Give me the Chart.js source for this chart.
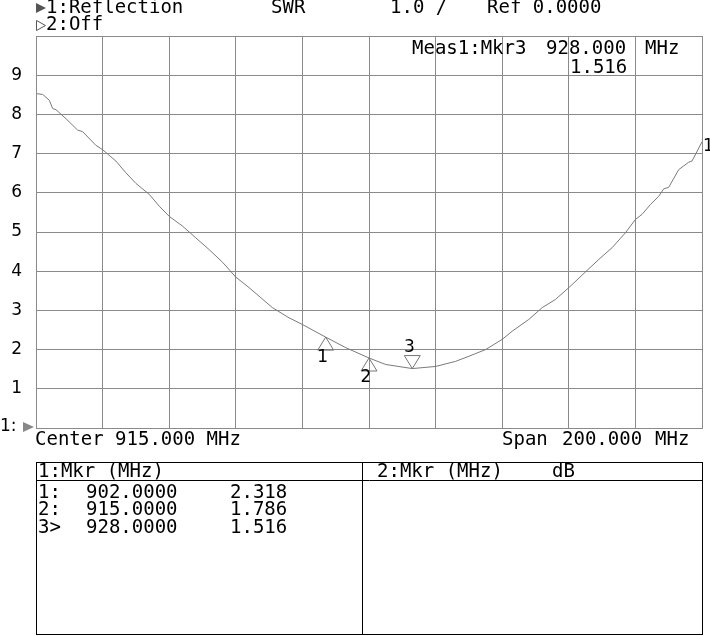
<!DOCTYPE html>
<html>
<head>
<meta charset="utf-8">
<script src="https://cdn.jsdelivr.net/npm/chart.js@4.4.1/dist/chart.umd.min.js"></script>
<style>
html,body{margin:0;padding:0;background:#fff;}
#wrap{width:710px;height:636px;position:relative;}
</style>
</head>
<body>
<div id="wrap"><canvas id="c" width="710" height="636"></canvas></div>
<script>
// Frequencies (MHz) and SWR values
const freqs = [815,817,819,820,821,824,827.5,829,833,835,839,842,845,849,852,855,859,863,867,871,875,879,886,891,895,902,908,915,920,928,935,941,945,950,955,958,963,967,971,975,980,984,988,992,993.5,995,997,999.5,1002,1003.5,1005,1008,1011,1012,1015];
const swr   = [8.53,8.51,8.36,8.15,8.12,7.89,7.60,7.56,7.21,7.10,6.81,6.51,6.24,5.96,5.66,5.40,5.15,4.85,4.55,4.23,3.85,3.58,3.07,2.81,2.64,2.318,2.05,1.786,1.62,1.516,1.57,1.70,1.83,2.00,2.26,2.47,2.77,3.07,3.28,3.58,3.98,4.30,4.60,4.98,5.15,5.32,5.45,5.70,5.91,6.10,6.14,6.59,6.78,6.81,7.30];
// Markers
const markerIds   = ['1','2','3'];
const markerFreqs = [902.0, 915.0, 928.0];
const markerVals  = [2.318, 1.786, 1.516];
const activeMarker = 2;
// Axis settings
const xMin = 815, xMax = 1015, xStep = 20;
const yMin = 0, yMax = 10, yStep = 1;
const yTickLabels = ['', '1','2','3','4','5','6','7','8','9',''];
// Annotation texts
const header1 = ['1:Reflection', 'SWR', '1.0 /', 'Ref 0.0000'];
const header2 = '2:Off';
const measText = ['Meas1:Mkr3', '928.000', 'MHz', '1.516'];
const centerText = 'Center 915.000 MHz';
const spanText = ['Span', '200.000', 'MHz'];
const tableHead = ['1:Mkr (MHz)', '2:Mkr (MHz)', 'dB'];
const tableRows = [['1:', '902.0000', '2.318'], ['2:', '915.0000', '1.786'], ['3>', '928.0000', '1.516']];

const MONO = '"DejaVu Sans Mono", monospace';
const GRID = '#8a8a8a';

const overlay = {
  id: 'overlay',
  afterDraw(chart) {
    const ctx = chart.ctx;
    const a = chart.chartArea;
    const xs = chart.scales.x, ys = chart.scales.y;
    ctx.save();
    // frame
    ctx.strokeStyle = GRID; ctx.lineWidth = 1;
    ctx.strokeRect(Math.round(a.left)+0.5, Math.round(a.top)+0.5, Math.round(a.right-a.left), Math.round(a.bottom-a.top));
    ctx.fillStyle = '#000';
    ctx.textBaseline = 'middle';
    ctx.font = '19px ' + MONO;
    ctx.textAlign = 'left';
    // header triangles
    ctx.fillStyle = '#555';
    ctx.beginPath(); ctx.moveTo(36,3); ctx.lineTo(46,8); ctx.lineTo(36,13); ctx.closePath(); ctx.fill();
    ctx.strokeStyle = '#555';
    ctx.beginPath(); ctx.moveTo(36.5,20.5); ctx.lineTo(45.5,25.5); ctx.lineTo(36.5,30.5); ctx.closePath(); ctx.stroke();
    ctx.fillStyle = '#000';
    ctx.fillText(header1[0], 46, 8);
    ctx.fillText(header1[1], 271, 8);
    ctx.fillText(header1[2], 390, 8);
    ctx.fillText(header1[3], 487, 8);
    ctx.fillText(header2, 46, 25);
    // meas
    ctx.fillText(measText[0], 412, 49);
    ctx.fillText(measText[1], 546, 49);
    ctx.fillText(measText[2], 645, 49);
    ctx.fillText(measText[3], 570, 68);
    // center/span
    ctx.fillText(centerText, 35, 440);
    ctx.fillText(spanText[0], 502, 440);
    ctx.fillText(spanText[1], 562, 440);
    ctx.fillText(spanText[2], 655, 440);
    // reference marker at left
    ctx.font = '17px "DejaVu Sans", sans-serif';
    ctx.fillText('1:', 0, 427);
    ctx.fillStyle = '#888';
    ctx.beginPath(); ctx.moveTo(23,422); ctx.lineTo(34,427); ctx.lineTo(23,432); ctx.closePath(); ctx.fill();
    ctx.fillStyle = '#000';
    // trace label at end
    const endX = xs.getPixelForValue(freqs[freqs.length-1]);
    const endY = ys.getPixelForValue(swr[swr.length-1]);
    ctx.fillText('1', endX + 1, endY + 5);
    // markers
    ctx.strokeStyle = '#777'; ctx.lineWidth = 1;
    for (let i = 0; i < markerIds.length; i++) {
      const px = xs.getPixelForValue(markerFreqs[i]);
      const py = ys.getPixelForValue(markerVals[i]);
      ctx.beginPath();
      ctx.textAlign = 'center';
      if (i === activeMarker) {
        ctx.moveTo(px, py); ctx.lineTo(px-8, py-13); ctx.lineTo(px+8, py-13); ctx.closePath();
        ctx.stroke();
        ctx.fillText(markerIds[i], px-3, py-21);
      } else {
        ctx.moveTo(px, py); ctx.lineTo(px-8, py+13); ctx.lineTo(px+8, py+13); ctx.closePath();
        ctx.stroke();
        ctx.fillText(markerIds[i], px-3, py+20);
      }
    }
    // table
    ctx.strokeStyle = '#000'; ctx.lineWidth = 1;
    ctx.strokeRect(36.5, 462.5, 666, 172);
    ctx.beginPath();
    ctx.moveTo(36.5, 480.5); ctx.lineTo(702.5, 480.5);
    ctx.moveTo(362.5, 462.5); ctx.lineTo(362.5, 634.5);
    ctx.stroke();
    ctx.font = '19px ' + MONO;
    ctx.textAlign = 'left';
    ctx.fillText(tableHead[0], 38, 472);
    ctx.fillText(tableHead[1], 377, 472);
    ctx.fillText(tableHead[2], 552, 472);
    for (let r = 0; r < tableRows.length; r++) {
      const y = 493 + r * 17.5;
      ctx.fillText(tableRows[r][0], 38, y);
      ctx.fillText(tableRows[r][1], 86, y);
      ctx.fillText(tableRows[r][2], 230, y);
    }
    ctx.restore();
  }
};

new Chart(document.getElementById('c'), {
  type: 'line',
  data: {
    datasets: [{
      data: freqs.map((f, i) => ({x: f, y: swr[i]})),
      borderColor: '#7a7a7a',
      borderWidth: 1,
      pointRadius: 0,
      tension: 0,
      fill: false
    }]
  },
  options: {
    responsive: false,
    animation: false,
    devicePixelRatio: 1,
    layout: { padding: { left: 0, top: 36, right: 8, bottom: 208 } },
    plugins: { legend: { display: false }, tooltip: { enabled: false } },
    scales: {
      x: {
        type: 'linear', min: xMin, max: xMax,
        ticks: { stepSize: xStep, display: false },
        grid: { color: GRID, lineWidth: 1, drawTicks: false },
        border: { display: false },
        afterFit(s) { s.height = 0; }
      },
      y: {
        min: yMin, max: yMax,
        ticks: {
          stepSize: yStep, padding: 14, color: '#000',
          font: { family: '"DejaVu Sans", sans-serif', size: 17 },
          callback: (v) => yTickLabels[Math.round(v)] ?? ''
        },
        grid: { color: GRID, lineWidth: 1, drawTicks: false },
        border: { display: false },
        afterFit(s) { s.width = 36; }
      }
    }
  },
  plugins: [overlay]
});
</script>
</body>
</html>
